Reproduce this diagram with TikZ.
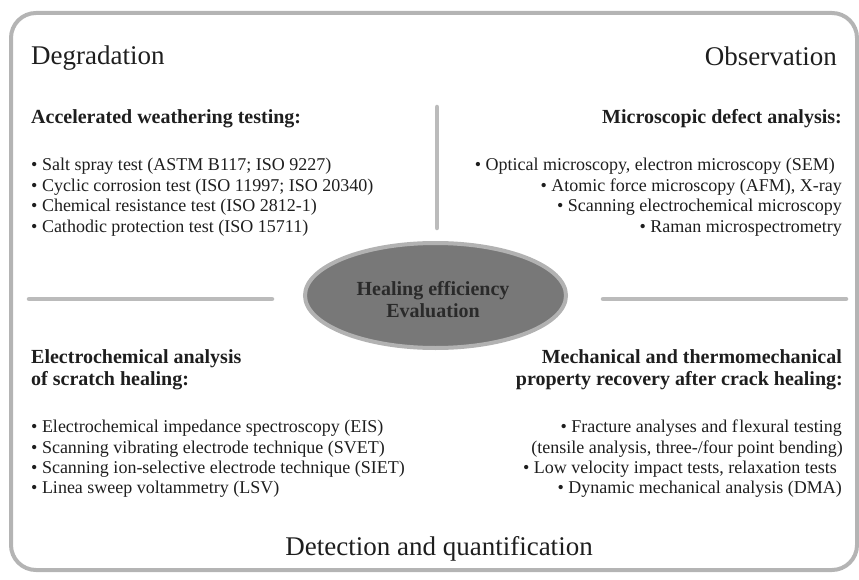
\documentclass[tikz,border=0pt]{standalone}
\usepackage{fontspec}
\setmainfont{Liberation Serif}
\usetikzlibrary{shapes.geometric}
\definecolor{framegray}{HTML}{B4B4B4}
\definecolor{linegray}{HTML}{BBBBBB}
\definecolor{ellfill}{HTML}{787878}
\definecolor{elldraw}{HTML}{B2B2B2}
\definecolor{txt}{HTML}{1E1E1E}
\definecolor{evaltxt}{HTML}{2A2A2A}
\begin{document}
\begin{tikzpicture}[x=1pt,y=-1pt,
  title/.style={font=\fontsize{27}{32}\selectfont, text=txt, inner sep=0},
  head/.style={font=\fontsize{20}{22}\selectfont\bfseries, text=txt, inner sep=0},
  item/.style={font=\fontsize{18}{20.4}\selectfont, text=txt, inner sep=0},
  sepline/.style={draw=linegray, line width=4.5, line cap=round},
  frame/.style={draw=framegray, line width=4, rounded corners=25},
  evalshape/.style={ellipse, draw=elldraw, fill=ellfill, line width=4,
    minimum width=261, minimum height=105, inner sep=0},
  evaltext/.style={font=\fontsize{20}{22}\selectfont\bfseries, text=evaltxt,
    align=center, inner sep=0}
]
\useasboundingbox (0,0) rectangle (859,580);
\draw[frame] (11,13) rectangle (857,570);

% titles
\node[title, anchor=base west] (degr) at (31,65) {Degradation};
\node[title, anchor=base east] (obs) at (837,66) {Observation};
\node[title, anchor=base] (detq) at (439,555) {Detection and quantification};

% separators
\draw[sepline] (437,107) -- (437,228);
\draw[sepline] (29,299) -- (272,299);
\draw[sepline] (603,299) -- (846,299);

% central ellipse
\node[evalshape] (eval) at (435.5,295.5) {};
\node[evaltext] (evallabel) at (433,299.2) {Healing efficiency\\Evaluation};

% top left
\node[head, anchor=base west] (tlh) at (31,124) {Accelerated weathering testing:};
\foreach \t [count=\i from 0] in {
  {• Salt spray test (ASTM B117; ISO 9227)},
  {• Cyclic corrosion test (ISO 11997; ISO 20340)},
  {• Chemical resistance test (ISO 2812-1)},
  {• Cathodic protection test (ISO 15711)}}
  \node[item, anchor=base west] (tl\i) at (31,{171+20.4*\i}) {\t};

% top right
\node[head, anchor=base east] (trh) at (842,124) {Microscopic defect analysis:};
\node[item, anchor=base east] (tr0) at (835,171) {• Optical microscopy, electron microscopy (SEM)};
\node[item, anchor=base east] (tr1) at (842,191.4) {• Atomic force microscopy (AFM), X-ray};
\node[item, anchor=base east] (tr2) at (842,211.8) {• Scanning electrochemical microscopy};
\node[item, anchor=base east] (tr3) at (842,232.2) {• Raman microspectrometry};

% bottom left
\node[head, anchor=base west] (blh1) at (31,363) {Electrochemical analysis};
\node[head, anchor=base west] (blh2) at (31,385) {of scratch healing:};
\foreach \t [count=\i from 0] in {
  {• Electrochemical impedance spectroscopy (EIS)},
  {• Scanning vibrating electrode technique (SVET)},
  {• Scanning ion-selective electrode technique (SIET)},
  {• Linea sweep voltammetry (LSV)}}
  \node[item, anchor=base west] (bl\i) at (31,{432.7+20.4*\i}) {\t};

% bottom right
\node[head, anchor=base east] (brh1) at (842,363) {Mechanical and thermomechanical};
\node[head, anchor=base east] (brh2) at (843,385) {property recovery after crack healing:};
\node[item, anchor=base east] (br0) at (842,432.7) {• Fracture analyses and f\kern1.5pt lexural testing};
\node[item, anchor=base east] (br1) at (843,453.1) {(tensile analysis, three-/four point bending)};
\node[item, anchor=base east] (br2) at (837,473.5) {• Low velocity impact tests, relaxation tests};
\node[item, anchor=base east] (br3) at (842,493.9) {• Dynamic mechanical analysis (DMA)};
\end{tikzpicture}
\end{document}
